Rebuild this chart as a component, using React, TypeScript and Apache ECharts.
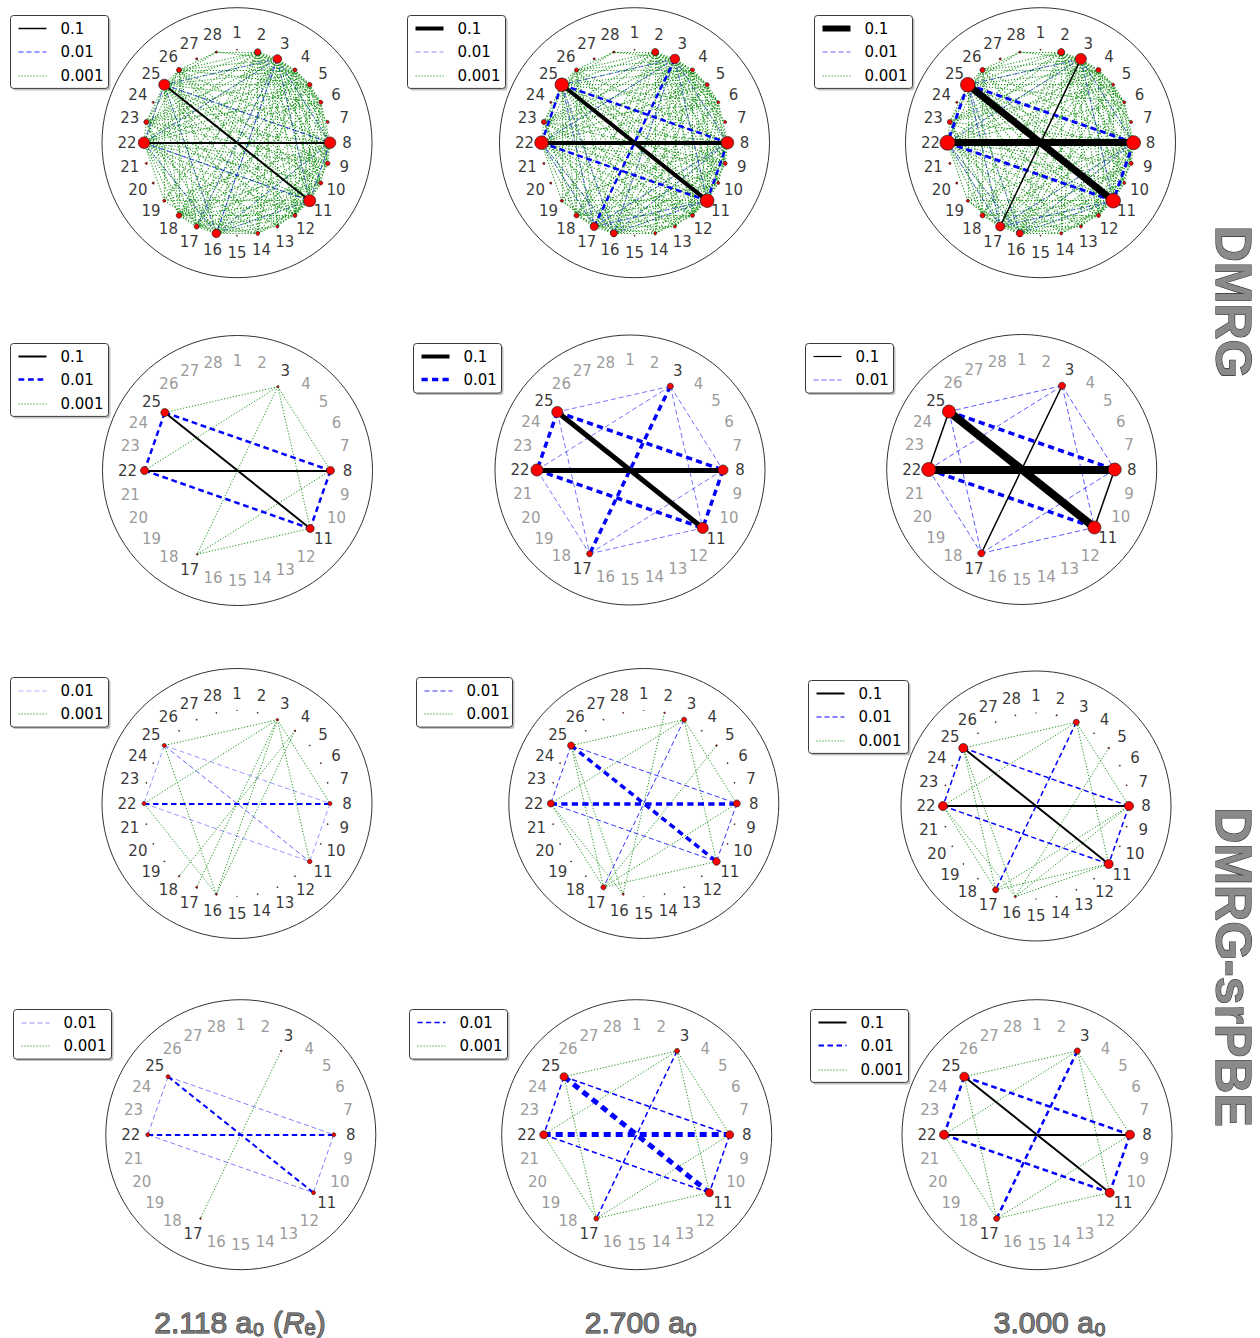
import React, { useEffect, useRef } from 'react';
import * as echarts from 'echarts';

// ---------------- DATA ----------------
const orbitalLabels = ['1', '2', '3', '4', '5', '6', '7', '8', '9', '10', '11', '12', '13', '14',
  '15', '16', '17', '18', '19', '20', '21', '22', '23', '24', '25', '26', '27', '28'];
const activeOrbitals = [3, 8, 11, 17, 22, 25];
const distanceLabels = ['2.118', '2.700', '3.000'];
const methodLabels = ['DMRG', 'DMRG-srPBE'];
const levelLabels = ['0.1', '0.01', '0.001'];

// node diameters (single-orbital entropy), full 28-orbital space
const nodeSizeDmrgFull2118 = [1, 6.5, 8.5, 4, 4.5, 4, 3, 11.5, 4.5, 4, 12, 4, 3, 4, 1, 8.5, 5, 5.5, 3, 2, 2, 11.5, 5, 2, 11, 5, 2, 2];
const nodeSizeDmrgFull2700 = [1, 7, 9.5, 4, 4, 3, 3, 12.5, 4, 3, 13.5, 4, 3, 3, 1, 7, 8, 5, 3, 2, 2, 13.5, 5, 2, 13.5, 4, 2, 2];
const nodeSizeDmrgFull3000 = [1, 7, 11, 5, 3, 3, 3, 14, 4, 3, 14.5, 4, 3, 3, 1, 7, 9, 5, 3, 2, 2, 15, 5, 2, 14.5, 5, 2, 2];
const nodeSizeSrFull2118 = [0.6, 1, 2.5, 1.5, 1, 1, 1, 4, 1, 1, 4.5, 1, 1, 1, 0.6, 2, 2, 1.5, 1, 1, 1, 4, 1, 1, 4, 1, 1, 1];
const nodeSizeSrFull2700 = [0.6, 1.5, 5, 1, 1.5, 1, 1, 7, 1, 1, 7.5, 1, 1, 1, 0.6, 2, 5, 1, 1, 1, 1, 7, 1, 1, 7, 1, 1, 1];
const nodeSizeSrFull3000 = [0.6, 1.2, 6, 1, 1.5, 1, 1, 9, 1, 1, 9, 1, 1, 1, 0.6, 2, 6, 1, 1, 1, 1, 9, 1, 1, 9, 1, 1, 1];
// node diameters in the active space, order = activeOrbitals
const nodeSizeDmrgAct2118 = [2, 8, 8, 1.5, 8, 8];
const nodeSizeDmrgAct2700 = [6, 10, 11, 6, 12, 11];
const nodeSizeDmrgAct3000 = [7, 13, 13, 7, 14, 13];
const nodeSizeSrAct2118 = [1.5, 4, 4, 1.5, 4, 4];
const nodeSizeSrAct2700 = [5, 8, 8, 5, 8, 8];
const nodeSizeSrAct3000 = [6, 9, 9, 6, 9, 9];

// edges: [orbital a, orbital b, level, line width, opacity]
type Edge = [number, number, string, number, number];

const edgesDmrgFull2118: Edge[] = [
  [22, 8, '0.1', 2, 1], [25, 11, '0.1', 2, 1],
  [25, 8, '0.01', 1, 0.7], [25, 22, '0.01', 1, 0.6], [22, 11, '0.01', 1, 0.7], [8, 11, '0.01', 1, 0.6],
  [3, 16, '0.01', 1, 0.7], [3, 17, '0.01', 1, 0.45], [3, 22, '0.01', 1, 0.45], [3, 25, '0.01', 1, 0.45],
  [3, 8, '0.01', 1, 0.45], [3, 11, '0.01', 1, 0.45], [16, 25, '0.01', 1, 0.45], [16, 22, '0.01', 1, 0.45],
  [16, 8, '0.01', 1, 0.4], [16, 11, '0.01', 1, 0.4],
];
const greenDmrgFull2118 = '2:3,4,5,6,8,9,10,11,12,13,14,16,17,18,19,22,23,25,26,28;' +
  '3:4,5,6,7,8,9,10,11,12,13,14,16,17,18,19,22,23,25,26,28;4:5,6,8,10,11,12,14,16,17,18,22,23,25,26;' +
  '5:6,8,9,11,12,16,17,18,22,23,25,26;6:8,9,11,12,16,18,22,23,25;8:9,10,11,12,13,14,16,17,18,19,22,23,25,26;' +
  '9:11,12,16,18,22,23,25;10:11,12,16,17,18,22,25,26;11:12,13,14,16,17,18,19,22,23,25,26;' +
  '12:14,16,17,18,22,23,25,26;13:16,22,25;14:16,17,18,22,25;16:17,18,19,22,23,25,26;17:18,22,23,25,26;' +
  '18:22,23,25,26;19:22,25;22:23,25,26;23:25,26;25:26,28;26:28';

const edgesDmrgFull2700: Edge[] = [
  [22, 8, '0.1', 4, 1], [25, 11, '0.1', 4, 1],
  [25, 8, '0.01', 2.5, 1], [22, 11, '0.01', 2.5, 1], [25, 22, '0.01', 2.5, 1], [8, 11, '0.01', 2.5, 1], [3, 17, '0.01', 2.5, 1],
  [3, 25, '0.01', 1, 0.5], [3, 22, '0.01', 1, 0.5], [3, 8, '0.01', 1, 0.5], [3, 11, '0.01', 1, 0.5],
  [25, 17, '0.01', 1, 0.5], [22, 17, '0.01', 1, 0.5], [17, 8, '0.01', 1, 0.5], [17, 11, '0.01', 1, 0.5],
  [3, 16, '0.01', 1, 0.5], [16, 25, '0.01', 1, 0.45], [16, 22, '0.01', 1, 0.45], [16, 8, '0.01', 1, 0.45], [16, 11, '0.01', 1, 0.45],
];
const greenDmrgFull2700 = '2:3,4,5,6,8,9,10,11,12,13,14,16,17,18,19,22,23,25,26,28;' +
  '3:4,5,6,7,8,9,10,11,12,13,14,16,17,18,19,22,23,25,26,28;4:5,6,8,10,11,12,14,16,17,18,22,23,25,26;' +
  '5:6,8,9,11,12,16,17,18,22,23,25;6:8,9,11,12,16,17,22,23,25;8:9,10,11,12,13,14,16,17,18,19,22,23,25,26;' +
  '9:11,12,16,17,22,23,25;10:11,12,16,17,18,22,25;11:12,13,14,16,17,18,19,22,23,25,26;' +
  '12:14,16,17,18,22,23,25,26;13:16,17,22,25;14:16,17,22,25;16:17,18,19,22,23,25,26;17:18,19,22,23,25,26;' +
  '18:22,23,25,26;19:22,25;22:23,25,26;23:25,26;25:26,28;26:28';

const edgesDmrgFull3000: Edge[] = [
  [22, 8, '0.1', 7, 1], [25, 11, '0.1', 7, 1], [3, 17, '0.1', 1.5, 1],
  [25, 8, '0.01', 3, 1], [22, 11, '0.01', 3, 1], [25, 22, '0.01', 3, 1], [8, 11, '0.01', 3, 1],
  [3, 25, '0.01', 1, 0.5], [3, 22, '0.01', 1, 0.5], [3, 8, '0.01', 1, 0.5], [3, 11, '0.01', 1, 0.5],
  [25, 17, '0.01', 1, 0.5], [22, 17, '0.01', 1, 0.5], [17, 8, '0.01', 1, 0.5], [17, 11, '0.01', 1, 0.5],
  [16, 25, '0.01', 1, 0.4], [16, 22, '0.01', 1, 0.4], [16, 8, '0.01', 1, 0.4], [16, 11, '0.01', 1, 0.4],
];
const greenDmrgFull3000 = '2:3,4,5,6,8,9,10,11,12,14,16,17,18,22,23,25,26,28;' +
  '3:4,5,6,7,8,9,10,11,12,13,14,16,17,18,19,22,23,25,26,28;4:5,6,8,10,11,12,16,17,18,22,23,25,26;' +
  '5:6,8,9,11,12,16,17,22,23,25;6:8,9,11,16,17,22,25;8:9,10,11,12,13,14,16,17,18,19,22,23,25,26;' +
  '9:11,12,16,17,22,25;10:11,12,16,17,22,25;11:12,13,14,16,17,18,19,22,23,25,26;' +
  '12:14,16,17,18,22,25,26;13:16,17,22,25;14:16,17,22,25;16:17,18,19,22,23,25,26;17:18,19,22,23,25,26;' +
  '18:22,23,25,26;19:22,25;22:23,25,26;23:25,26;25:26,28;26:28';

const edgesDmrgAct2118: Edge[] = [
  [3, 25, '0.001', 1, 1], [3, 22, '0.001', 1, 1], [3, 8, '0.001', 1, 1], [3, 11, '0.001', 1, 1],
  [3, 17, '0.001', 1, 1], [17, 8, '0.001', 1, 1], [17, 11, '0.001', 1, 1],
  [25, 8, '0.01', 2.5, 1], [25, 22, '0.01', 2.5, 1], [22, 11, '0.01', 2.5, 1], [8, 11, '0.01', 2.5, 1],
  [22, 8, '0.1', 2, 1], [25, 11, '0.1', 2, 1],
];
const edgesDmrgAct2700: Edge[] = [
  [3, 25, '0.01', 1, 0.55], [3, 22, '0.01', 1, 0.55], [3, 8, '0.01', 1, 0.55], [3, 11, '0.01', 1, 0.55],
  [25, 17, '0.01', 1, 0.55], [22, 17, '0.01', 1, 0.55], [17, 11, '0.01', 1, 0.55], [17, 8, '0.01', 1, 0.55],
  [25, 22, '0.01', 3.5, 1], [25, 8, '0.01', 3.5, 1], [22, 11, '0.01', 3.5, 1], [8, 11, '0.01', 3.5, 1], [3, 17, '0.01', 3.5, 1],
  [22, 8, '0.1', 5, 1], [25, 11, '0.1', 5, 1],
];
const edgesDmrgAct3000: Edge[] = [
  [3, 25, '0.01', 1, 0.65], [3, 22, '0.01', 1, 0.65], [3, 8, '0.01', 1, 0.65], [3, 11, '0.01', 1, 0.65],
  [25, 17, '0.01', 1, 0.65], [22, 17, '0.01', 1, 0.65], [17, 11, '0.01', 1, 0.65], [17, 8, '0.01', 1, 0.65],
  [25, 8, '0.01', 3.5, 1], [22, 11, '0.01', 3.5, 1],
  [3, 17, '0.1', 1.5, 1], [25, 22, '0.1', 1.5, 1], [8, 11, '0.1', 1.5, 1],
  [22, 8, '0.1', 8, 1], [25, 11, '0.1', 8, 1],
];
const edgesSrFull2118: Edge[] = [
  [3, 25, '0.001', 1, 1], [3, 22, '0.001', 1, 1], [3, 8, '0.001', 1, 1], [3, 11, '0.001', 1, 1],
  [3, 16, '0.001', 1, 1], [3, 17, '0.001', 1, 1], [4, 18, '0.001', 1, 1], [4, 16, '0.001', 1, 1],
  [25, 16, '0.001', 1, 1], [22, 16, '0.001', 1, 1],
  [25, 22, '0.01', 1, 0.4], [25, 8, '0.01', 1, 0.4], [22, 11, '0.01', 1, 0.4], [8, 11, '0.01', 1, 0.4],
  [25, 11, '0.01', 1, 0.6], [22, 8, '0.01', 2, 1],
];
const edgesSrFull2700: Edge[] = [
  [3, 25, '0.001', 1, 1], [3, 22, '0.001', 1, 1], [3, 8, '0.001', 1, 1], [3, 11, '0.001', 1, 1],
  [2, 16, '0.001', 1, 1], [5, 17, '0.001', 1, 1], [25, 17, '0.001', 1, 1], [25, 16, '0.001', 1, 1],
  [22, 17, '0.001', 1, 1], [22, 16, '0.001', 1, 1], [17, 8, '0.001', 1, 1], [17, 11, '0.001', 1, 1],
  [25, 22, '0.01', 1, 0.8], [25, 8, '0.01', 1, 0.8], [22, 11, '0.01', 1, 0.8], [8, 11, '0.01', 1, 0.8], [3, 17, '0.01', 1, 0.8],
  [22, 8, '0.01', 3.5, 1], [25, 11, '0.01', 3.5, 1],
];
const edgesSrFull3000: Edge[] = [
  [3, 25, '0.001', 1, 1], [3, 22, '0.001', 1, 1], [3, 8, '0.001', 1, 1], [3, 11, '0.001', 1, 1],
  [5, 16, '0.001', 1, 1], [25, 17, '0.001', 1, 1], [25, 16, '0.001', 1, 1], [22, 17, '0.001', 1, 1],
  [22, 16, '0.001', 1, 1], [16, 8, '0.001', 1, 1], [17, 8, '0.001', 1, 1], [16, 11, '0.001', 1, 1], [17, 11, '0.001', 1, 1],
  [25, 22, '0.01', 1.5, 1], [25, 8, '0.01', 1.5, 1], [22, 11, '0.01', 1.5, 1], [8, 11, '0.01', 1.5, 1], [3, 17, '0.01', 1.5, 1],
  [22, 8, '0.1', 2, 1], [25, 11, '0.1', 2, 1],
];
const edgesSrAct2118: Edge[] = [
  [3, 17, '0.001', 1, 1],
  [25, 22, '0.01', 1, 0.5], [25, 8, '0.01', 1, 0.5], [22, 11, '0.01', 1, 0.5], [8, 11, '0.01', 1, 0.5],
  [22, 8, '0.01', 2, 1], [25, 11, '0.01', 2, 1],
];
const edgesSrAct2700: Edge[] = [
  [3, 25, '0.001', 1, 1], [3, 22, '0.001', 1, 1], [3, 8, '0.001', 1, 1], [3, 11, '0.001', 1, 1],
  [25, 17, '0.001', 1, 1], [22, 17, '0.001', 1, 1], [17, 8, '0.001', 1, 1], [17, 11, '0.001', 1, 1],
  [25, 22, '0.01', 1.5, 1], [25, 8, '0.01', 1.5, 1], [22, 11, '0.01', 1.5, 1], [8, 11, '0.01', 1.5, 1], [3, 17, '0.01', 1.5, 1],
  [22, 8, '0.01', 5, 1], [25, 11, '0.01', 5, 1],
];
const edgesSrAct3000: Edge[] = [
  [3, 25, '0.001', 1, 1], [3, 22, '0.001', 1, 1], [3, 8, '0.001', 1, 1], [3, 11, '0.001', 1, 1],
  [25, 17, '0.001', 1, 1], [22, 17, '0.001', 1, 1], [17, 8, '0.001', 1, 1], [17, 11, '0.001', 1, 1],
  [25, 22, '0.01', 2.5, 1], [25, 8, '0.01', 2.5, 1], [22, 11, '0.01', 2.5, 1], [8, 11, '0.01', 2.5, 1], [3, 17, '0.01', 2.5, 1],
  [22, 8, '0.1', 2, 1], [25, 11, '0.1', 2, 1],
];

// legend entries: [level, line width, opacity]
type LegendItem = [string, number, number];
const legendDmrgFull2118: LegendItem[] = [['0.1', 1.5, 1], ['0.01', 1, 0.8], ['0.001', 1, 1]];
const legendDmrgFull2700: LegendItem[] = [['0.1', 4, 1], ['0.01', 1, 0.45], ['0.001', 1, 1]];
const legendDmrgFull3000: LegendItem[] = [['0.1', 6, 1], ['0.01', 1, 0.6], ['0.001', 1, 1]];
const legendDmrgAct2118: LegendItem[] = [['0.1', 2, 1], ['0.01', 2.5, 1], ['0.001', 1, 1]];
const legendDmrgAct2700: LegendItem[] = [['0.1', 4, 1], ['0.01', 3.5, 1]];
const legendDmrgAct3000: LegendItem[] = [['0.1', 1.2, 1], ['0.01', 1, 0.6]];
const legendSrFull2118: LegendItem[] = [['0.01', 1, 0.3], ['0.001', 1, 1]];
const legendSrFull2700: LegendItem[] = [['0.01', 1, 0.8], ['0.001', 1, 1]];
const legendSrFull3000: LegendItem[] = [['0.1', 2, 1], ['0.01', 1, 1], ['0.001', 1, 1]];
const legendSrAct2118: LegendItem[] = [['0.01', 1, 0.45], ['0.001', 1, 1]];
const legendSrAct2700: LegendItem[] = [['0.01', 1.5, 1], ['0.001', 1, 1]];
const legendSrAct3000: LegendItem[] = [['0.1', 2, 1], ['0.01', 2, 1], ['0.001', 1, 1]];

// ---------------- LAYOUT ----------------
const R_NODE = 93;
const R_LABEL = 110;
const R_CIRCLE = 135;
const FONT = '"DejaVu Sans", sans-serif';

function parseAdj(s: string, level: string, w: number, a: number): Edge[] {
  const out: Edge[] = [];
  s.split(';').forEach((part) => {
    const [from, list] = part.split(':');
    list.split(',').forEach((t) => out.push([Number(from), Number(t), level, w, a]));
  });
  return out;
}

function pos(orb: number, r: number): number[] {
  const ang = ((orb - 1) * 2 * Math.PI) / orbitalLabels.length;
  return [r * Math.sin(ang), r * Math.cos(ang)];
}

const LEVEL_COLOR: Record<string, string> = { '0.1': '#000000', '0.01': '#0000ff', '0.001': '#1e961e' };
function dashFor(level: string, w: number): any {
  if (level === '0.1') return 'solid';
  if (level === '0.01') return [4.5 + w * 0.5, 2.5 + w * 0.5];
  return [1.2, 1.8];
}

type Panel = {
  center: number[];
  box: number[];
  sizes: number[];
  edges: Edge[];
  legend: LegendItem[];
};

const panels: Panel[] = [
  { center: [237, 142.7], box: [10, 15, 98], sizes: nodeSizeDmrgFull2118, edges: [...parseAdj(greenDmrgFull2118, '0.001', 1.1, 1), ...edgesDmrgFull2118], legend: legendDmrgFull2118 },
  { center: [634.5, 142.7], box: [407, 15, 98], sizes: nodeSizeDmrgFull2700, edges: [...parseAdj(greenDmrgFull2700, '0.001', 1.1, 1), ...edgesDmrgFull2700], legend: legendDmrgFull2700 },
  { center: [1040.5, 142.7], box: [814, 15, 98], sizes: nodeSizeDmrgFull3000, edges: [...parseAdj(greenDmrgFull3000, '0.001', 1.1, 1), ...edgesDmrgFull3000], legend: legendDmrgFull3000 },
  { center: [237.5, 470.5], box: [10, 343, 98], sizes: nodeSizeDmrgAct2118, edges: edgesDmrgAct2118, legend: legendDmrgAct2118 },
  { center: [630, 470], box: [413, 343, 88], sizes: nodeSizeDmrgAct2700, edges: edgesDmrgAct2700, legend: legendDmrgAct2700 },
  { center: [1021.7, 469.5], box: [805, 343, 88], sizes: nodeSizeDmrgAct3000, edges: edgesDmrgAct3000, legend: legendDmrgAct3000 },
  { center: [237, 803.5], box: [10, 677, 98], sizes: nodeSizeSrFull2118, edges: edgesSrFull2118, legend: legendSrFull2118 },
  { center: [643.8, 803.5], box: [416, 677, 96], sizes: nodeSizeSrFull2700, edges: edgesSrFull2700, legend: legendSrFull2700 },
  { center: [1036, 806], box: [808, 680, 100], sizes: nodeSizeSrFull3000, edges: edgesSrFull3000, legend: legendSrFull3000 },
  { center: [240.8, 1134.7], box: [13, 1009, 98], sizes: nodeSizeSrAct2118, edges: edgesSrAct2118, legend: legendSrAct2118 },
  { center: [636.7, 1134.7], box: [409, 1009, 98], sizes: nodeSizeSrAct2700, edges: edgesSrAct2700, legend: legendSrAct2700 },
  { center: [1037, 1134.7], box: [810, 1009, 98], sizes: nodeSizeSrAct3000, edges: edgesSrAct3000, legend: legendSrAct3000 },
];

// draw order: 0.001 first (bottom), then 0.01, then 0.1 on top
const drawRank = (l: string) => levelLabels.length - levelLabels.indexOf(l);

function buildOption() {
  const grid: any[] = [];
  const xAxis: any[] = [];
  const yAxis: any[] = [];
  const series: any[] = [];
  const graphic: any[] = [];

  panels.forEach((p, k) => {
    const [cx, cy] = p.center;
    const isActive = p.sizes.length !== orbitalLabels.length;
    grid.push({ left: cx - R_CIRCLE, top: cy - R_CIRCLE, width: 2 * R_CIRCLE, height: 2 * R_CIRCLE, containLabel: false });
    xAxis.push({ type: 'value', gridIndex: k, min: -R_CIRCLE, max: R_CIRCLE, show: false });
    yAxis.push({ type: 'value', gridIndex: k, min: -R_CIRCLE, max: R_CIRCLE, show: false });

    graphic.push({
      type: 'circle', z: 0, silent: true,
      shape: { cx, cy, r: R_CIRCLE },
      style: { fill: 'none', stroke: '#333', lineWidth: 1 },
    });

    const sorted = [...p.edges].sort((a, b) => drawRank(a[2]) - drawRank(b[2]) || a[3] - b[3]);
    series.push({
      type: 'lines', coordinateSystem: 'cartesian2d', xAxisIndex: k, yAxisIndex: k,
      silent: true, z: 3, polyline: false,
      lineStyle: { opacity: 1 },
      data: sorted.map((e) => ({
        coords: [pos(e[0], R_NODE), pos(e[1], R_NODE)],
        lineStyle: {
          color: LEVEL_COLOR[e[2]], width: e[3], opacity: e[4],
          type: dashFor(e[2], e[3]), cap: 'butt',
        },
      })),
    });

    const nodes = isActive
      ? activeOrbitals.map((o, j) => ({ name: orbitalLabels[o - 1], value: pos(o, R_NODE), symbolSize: p.sizes[j] }))
      : p.sizes.map((s, i) => ({ name: orbitalLabels[i], value: pos(i + 1, R_NODE), symbolSize: s }));
    series.push({
      type: 'scatter', xAxisIndex: k, yAxisIndex: k, silent: true, z: 5,
      itemStyle: { color: '#ff0000', borderColor: '#202020', borderWidth: 0.7, opacity: 1 },
      data: nodes,
    });

    series.push({
      type: 'scatter', xAxisIndex: k, yAxisIndex: k, silent: true, z: 4,
      symbolSize: 0.1,
      itemStyle: { color: 'rgba(0,0,0,0)' },
      label: { show: true, position: 'inside', formatter: '{b}', fontSize: 15, fontFamily: FONT },
      data: orbitalLabels.map((l, i) => ({
        name: l,
        value: pos(i + 1, R_LABEL),
        label: { color: isActive && !activeOrbitals.includes(i + 1) ? '#808080' : '#000000' },
      })),
    });

    // legend box
    const [bx, by, bw] = p.box;
    const bh = p.legend.length * 23.3 + 3;
    const children: any[] = [
      { type: 'rect', shape: { x: 2, y: 2, width: bw, height: bh, r: 3 }, style: { fill: '#9a9a9a', opacity: 0.6 } },
      { type: 'rect', shape: { x: 0, y: 0, width: bw, height: bh, r: 3 }, style: { fill: '#ffffff', stroke: '#3a3a3a', lineWidth: 1 } },
    ];
    p.legend.forEach((it, i) => {
      const ly = Math.round(13 + i * 23.3);
      const lineY = it[1] <= 1 ? ly + 0.5 : ly;
      children.push({
        type: 'line', shape: { x1: 8, y1: lineY, x2: 36, y2: lineY },
        style: {
          stroke: LEVEL_COLOR[it[0]], lineWidth: it[1], opacity: it[2],
          lineDash: it[0] === '0.1' ? null : dashFor(it[0], it[1]), lineCap: 'butt',
        },
      });
      children.push({
        type: 'text', x: 50, y: ly,
        style: { text: it[0], fontSize: 15, fontFamily: FONT, fill: '#000', align: 'left', verticalAlign: 'middle' },
      });
    });
    graphic.push({ type: 'group', x: Math.round(bx) + 0.5, y: Math.round(by) + 0.5, z: 100, silent: true, children });
  });

  // row labels (methods)
  const sideCenters = [302, 967];
  methodLabels.forEach((m, i) => {
    graphic.push({
      type: 'text', x: 1233, y: sideCenters[i], rotation: -Math.PI / 2, z: 100, silent: true,
      style: {
        text: m, fontSize: 50, fontWeight: 'bold', fontFamily: '"Liberation Sans", Arial, sans-serif',
        fill: '#8a8a8a', stroke: '#333', lineWidth: 1.2, align: 'center', verticalAlign: 'middle',
      },
    });
  });

  // column labels (distances)
  const bottomCenters = [240, 641, 1050];
  distanceLabels.forEach((d, i) => {
    const txt = i === 0 ? `${d} a\u2080 ({i|R}\u2091)` : `${d} a\u2080`;
    graphic.push({
      type: 'text', x: bottomCenters[i], y: 1322, z: 100, silent: true,
      style: {
        text: txt, fontSize: 30, fontFamily: '"Liberation Sans", Arial, sans-serif',
        fill: '#777777', stroke: '#2a2a2a', lineWidth: 1, align: 'center', verticalAlign: 'middle',
        rich: { i: { fontStyle: 'italic', fontSize: 30, fontFamily: '"Liberation Sans", Arial, sans-serif' } },
      },
    });
  });

  return { animation: false, grid, xAxis, yAxis, series, graphic };
}

export default function App() {
  const ref = useRef<HTMLDivElement>(null);
  useEffect(() => {
    if (!ref.current) return;
    const chart = echarts.init(ref.current, undefined, { renderer: 'svg' });
    chart.setOption(buildOption());
    return () => chart.dispose();
  }, []);
  return (
    <div
      ref={ref}
      style={{ position: 'absolute', left: 0, top: 0, width: 1260, height: 1338, background: '#ffffff' }}
    />
  );
}
